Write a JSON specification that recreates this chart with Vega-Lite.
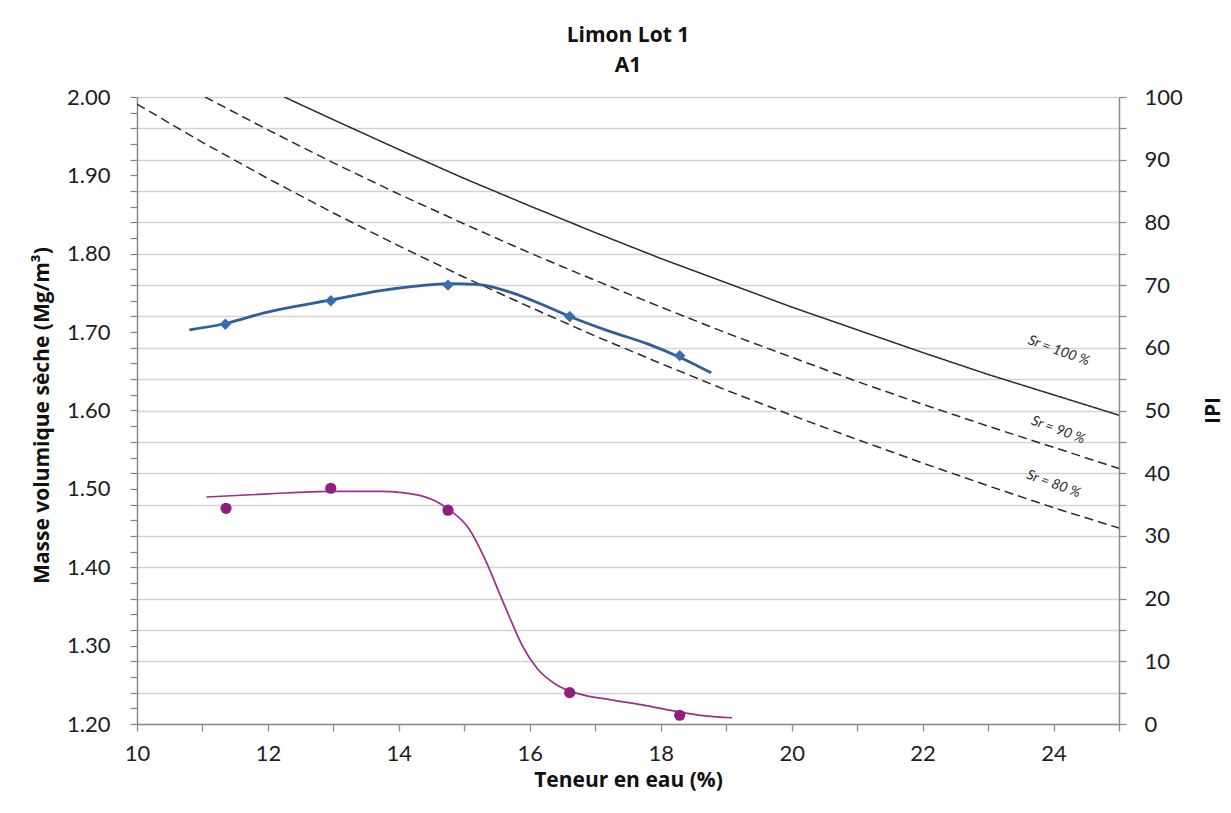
{
  "$schema": "https://vega.github.io/schema/vega-lite/v6.json",
  "width": 982,
  "height": 627,
  "autosize": {"type": "none"},
  "padding": {"left": 137, "top": 97, "right": 112, "bottom": 89},
  "background": "white",
  "config": {
    "view": {"stroke": null},
    "font": "Lato",
    "axis": {
      "labelFont": "Lato",
      "labelFontSize": 22,
      "labelColor": "#1e1e1e",
      "titleFont": "Open Sans",
      "titleFontSize": 21,
      "titleFontWeight": "bold",
      "titleColor": "#111111",
      "domainColor": "#8a8a8a",
      "domainWidth": 1.5,
      "tickColor": "#8a8a8a",
      "tickWidth": 1.3,
      "tickSize": 7
    }
  },
  "title": {
    "text": ["Limon Lot 1", "A1"],
    "font": "Open Sans",
    "fontSize": 21,
    "fontWeight": "bold",
    "lineHeight": 30,
    "offset": 10,
    "anchor": "middle",
    "color": "#111111"
  },
  "datasets": {
    "sat": [
      {"w": 12.25, "rho": 2.000, "sr": "100"},
      {"w": 13, "rho": 1.971, "sr": "100"},
      {"w": 14, "rho": 1.933, "sr": "100"},
      {"w": 15, "rho": 1.896, "sr": "100"},
      {"w": 16, "rho": 1.861, "sr": "100"},
      {"w": 17, "rho": 1.827, "sr": "100"},
      {"w": 18, "rho": 1.794, "sr": "100"},
      {"w": 19, "rho": 1.763, "sr": "100"},
      {"w": 20, "rho": 1.732, "sr": "100"},
      {"w": 21, "rho": 1.703, "sr": "100"},
      {"w": 22, "rho": 1.674, "sr": "100"},
      {"w": 23, "rho": 1.646, "sr": "100"},
      {"w": 24, "rho": 1.620, "sr": "100"},
      {"w": 25, "rho": 1.594, "sr": "100"},
      {"w": 11.04, "rho": 2.000, "sr": "90"},
      {"w": 12, "rho": 1.958, "sr": "90"},
      {"w": 13, "rho": 1.916, "sr": "90"},
      {"w": 14, "rho": 1.876, "sr": "90"},
      {"w": 15, "rho": 1.838, "sr": "90"},
      {"w": 16, "rho": 1.801, "sr": "90"},
      {"w": 17, "rho": 1.766, "sr": "90"},
      {"w": 18, "rho": 1.732, "sr": "90"},
      {"w": 19, "rho": 1.699, "sr": "90"},
      {"w": 20, "rho": 1.668, "sr": "90"},
      {"w": 21, "rho": 1.637, "sr": "90"},
      {"w": 22, "rho": 1.608, "sr": "90"},
      {"w": 23, "rho": 1.580, "sr": "90"},
      {"w": 24, "rho": 1.553, "sr": "90"},
      {"w": 25, "rho": 1.526, "sr": "90"},
      {"w": 10, "rho": 1.991, "sr": "80"},
      {"w": 11, "rho": 1.942, "sr": "80"},
      {"w": 12, "rho": 1.896, "sr": "80"},
      {"w": 13, "rho": 1.852, "sr": "80"},
      {"w": 14, "rho": 1.810, "sr": "80"},
      {"w": 15, "rho": 1.770, "sr": "80"},
      {"w": 16, "rho": 1.732, "sr": "80"},
      {"w": 17, "rho": 1.695, "sr": "80"},
      {"w": 18, "rho": 1.660, "sr": "80"},
      {"w": 19, "rho": 1.626, "sr": "80"},
      {"w": 20, "rho": 1.594, "sr": "80"},
      {"w": 21, "rho": 1.563, "sr": "80"},
      {"w": 22, "rho": 1.533, "sr": "80"},
      {"w": 23, "rho": 1.504, "sr": "80"},
      {"w": 24, "rho": 1.476, "sr": "80"},
      {"w": 25, "rho": 1.450, "sr": "80"}
    ],
    "blueCurve": [
      {"w": 10.8, "rho": 1.703},
      {"w": 11.35, "rho": 1.711},
      {"w": 11.96, "rho": 1.725},
      {"w": 12.96, "rho": 1.741},
      {"w": 13.72, "rho": 1.753},
      {"w": 14.3, "rho": 1.759},
      {"w": 14.75, "rho": 1.762},
      {"w": 15.2, "rho": 1.761},
      {"w": 15.7, "rho": 1.751},
      {"w": 16.05, "rho": 1.740},
      {"w": 16.61, "rho": 1.720},
      {"w": 17.22, "rho": 1.701},
      {"w": 17.8, "rho": 1.685},
      {"w": 18.29, "rho": 1.668},
      {"w": 18.77, "rho": 1.648}
    ],
    "bluePts": [
      {"w": 11.35, "rho": 1.71},
      {"w": 12.96, "rho": 1.74},
      {"w": 14.75, "rho": 1.76},
      {"w": 16.61, "rho": 1.72},
      {"w": 18.29, "rho": 1.67}
    ],
    "labels": [
      {"w": 24.08, "rho": 1.676, "label": "Sr = 100 %"},
      {"w": 24.07, "rho": 1.575, "label": "Sr = 90 %"},
      {"w": 24.0, "rho": 1.506, "label": "Sr = 80 %"}
    ],
    "magCurve": [
      {"w": 11.06, "ipi": 36.2},
      {"w": 12.0, "ipi": 36.7},
      {"w": 12.96, "ipi": 37.1},
      {"w": 13.72, "ipi": 37.1},
      {"w": 14.05, "ipi": 36.9},
      {"w": 14.3, "ipi": 36.5},
      {"w": 14.55, "ipi": 35.6},
      {"w": 14.75, "ipi": 34.3},
      {"w": 15.06, "ipi": 31.3},
      {"w": 15.35, "ipi": 25.5},
      {"w": 15.53, "ipi": 21.0},
      {"w": 15.7, "ipi": 16.8},
      {"w": 15.88, "ipi": 12.6},
      {"w": 16.11, "ipi": 8.9},
      {"w": 16.4, "ipi": 6.3},
      {"w": 16.75, "ipi": 4.8},
      {"w": 17.22, "ipi": 3.9},
      {"w": 17.8, "ipi": 2.9},
      {"w": 18.29, "ipi": 1.9},
      {"w": 18.68, "ipi": 1.3},
      {"w": 19.09, "ipi": 1.0}
    ],
    "magPts": [
      {"w": 11.36, "ipi": 34.4},
      {"w": 12.96, "ipi": 37.6},
      {"w": 14.75, "ipi": 34.1},
      {"w": 16.61, "ipi": 5.0},
      {"w": 18.29, "ipi": 1.4}
    ]
  },
  "encoding": {
    "x": {
      "field": "w",
      "type": "quantitative",
      "scale": {"domain": [10, 25], "nice": false, "zero": false},
      "axis": {
        "title": "Teneur en eau (%)",
        "values": [10, 11, 12, 13, 14, 15, 16, 17, 18, 19, 20, 21, 22, 23, 24, 25],
        "labelExpr": "(datum.value % 2 === 0 && datum.value < 25) ? datum.label : ''",
        "labelPadding": 12,
        "labelFlush": false,
        "grid": false,
        "titleY": 56,
        "titleBaseline": "middle"
      }
    }
  },
  "layer": [
    {
      "encoding": {
        "y": {
          "field": "rho",
          "type": "quantitative",
          "scale": {"domain": [1.2, 2.0], "nice": false, "zero": false},
          "axis": {
            "orient": "left",
            "title": "Masse volumique sèche (Mg/m³)",
            "format": ".2f",
            "values": [1.2, 1.22, 1.24, 1.26, 1.28, 1.3, 1.32, 1.34, 1.36, 1.38, 1.4, 1.42, 1.44, 1.46, 1.48, 1.5, 1.52, 1.54, 1.56, 1.58, 1.6, 1.62, 1.64, 1.66, 1.68, 1.7, 1.72, 1.74, 1.76, 1.78, 1.8, 1.82, 1.84, 1.86, 1.88, 1.9, 1.92, 1.94, 1.96, 1.98, 2.0],
            "labelExpr": "round(datum.value * 100) % 10 === 0 ? datum.label : ''",
            "labelPadding": 20,
            "labelFlush": false,
            "grid": false,
            "titleX": -95,
            "titleY": 318,
            "titleAngle": 270,
            "titleBaseline": "middle",
            "titleAlign": "center"
          }
        }
      },
      "layer": [
        {
          "data": {"name": "sat"},
          "mark": {"type": "line", "color": "#2a2a2a", "strokeWidth": 1.5, "clip": true},
          "encoding": {
            "detail": {"field": "sr"},
            "strokeDash": {
              "field": "sr",
              "type": "nominal",
              "scale": {"domain": ["100", "90", "80"], "range": [[1, 0], [9, 5], [9, 5]]},
              "legend": null
            }
          }
        },
        {
          "data": {"name": "blueCurve"},
          "mark": {"type": "line", "color": "#2f5e98", "strokeWidth": 2.8, "interpolate": "monotone"}
        },
        {
          "data": {"name": "bluePts"},
          "mark": {"type": "point", "shape": "diamond", "filled": true, "color": "#3a6cb0", "size": 130, "opacity": 1}
        },
        {
          "data": {"name": "labels"},
          "mark": {"type": "text", "angle": 20, "fontSize": 14, "fontStyle": "italic", "font": "Lato", "color": "#2a2a2a", "align": "center", "baseline": "middle"},
          "encoding": {"text": {"field": "label"}}
        }
      ]
    },
    {
      "encoding": {
        "y": {
          "field": "ipi",
          "type": "quantitative",
          "scale": {"domain": [0, 100], "nice": false},
          "axis": {
            "orient": "right",
            "title": "IPI",
            "values": [0, 5, 10, 15, 20, 25, 30, 35, 40, 45, 50, 55, 60, 65, 70, 75, 80, 85, 90, 95, 100],
            "labelExpr": "datum.value % 10 === 0 ? datum.label : ''",
            "labelPadding": 18,
            "labelFlush": false,
            "grid": true,
            "gridColor": "#d3d3d3",
            "gridWidth": 1.6,
            "titleX": 94,
            "titleY": 313,
            "titleAngle": 270,
            "titleBaseline": "middle",
            "titleAlign": "center"
          }
        }
      },
      "layer": [
        {
          "data": {"name": "magCurve"},
          "mark": {"type": "line", "color": "#9c2e8c", "strokeWidth": 1.7, "interpolate": "monotone"}
        },
        {
          "data": {"name": "magPts"},
          "mark": {"type": "point", "shape": "circle", "filled": true, "color": "#8e1f80", "size": 125, "opacity": 1}
        }
      ]
    }
  ],
  "resolve": {"scale": {"y": "independent"}}
}
